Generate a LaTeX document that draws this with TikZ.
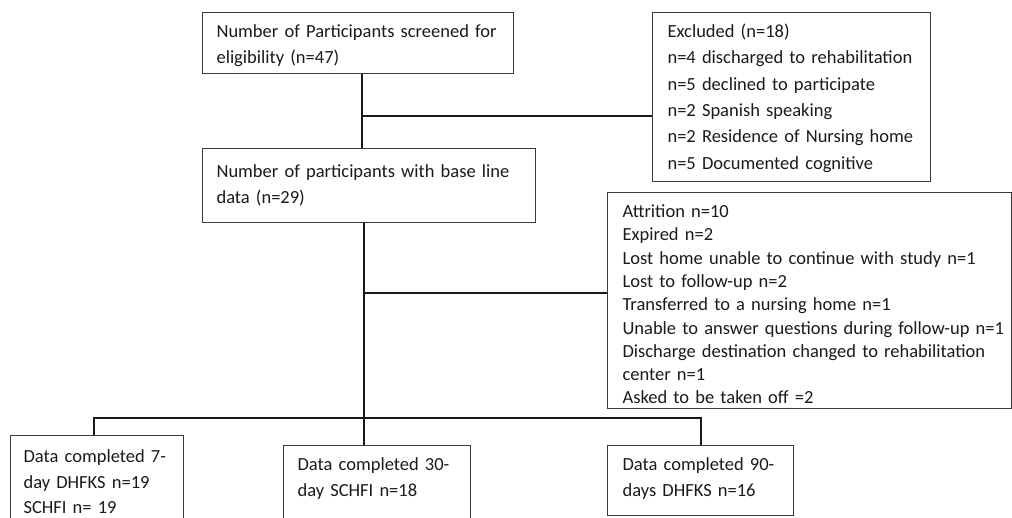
\documentclass[tikz,border=0pt]{standalone}
\usepackage{fontspec}
\setmainfont{Carlito}
\usepackage{tikz}
\definecolor{boxgray}{HTML}{3C3C3C}
\definecolor{inkblack}{HTML}{1A1A1A}
\tikzstyle{flowbox}=[draw=boxgray,line width=1.1pt,anchor=north west,inner ysep=0pt,align=left,text=inkblack,font=\fontsize{18.5}{26.3}\selectfont]
\tikzstyle{thinline}=[line width=1.1pt,inkblack]
\tikzstyle{thickline}=[line width=2pt,inkblack]

\begin{document}
\begin{tikzpicture}[x=1pt,y=-1pt]
            \useasboundingbox (0,0) rectangle (1012,518);
            \clip (0,0) rectangle (1012,518);
            \coordinate (j1) at (362,116);
            \coordinate (j2) at (364,293);
            \coordinate (j3) at (364,418);
            \node[flowbox,inner xsep=14pt,text width=283pt,text height=25pt,text depth=36pt] (screened) at (202,12)
                {Number of Participants screened for\\eligibility (n=47)};
            \node[flowbox,inner xsep=15pt,text width=248pt,text height=25pt,text depth=144pt] (excluded) at (652,12)
                {Excluded (n=18)\\n=4 discharged to rehabilitation\\n=5 declined to participate\\n=2 Spanish speaking\\n=2 Residence of Nursing home\\n=5 Documented cognitive};
            \node[flowbox,inner xsep=14pt,text width=305pt,text height=29pt,text depth=45pt] (baseline) at (202,148)
                {Number of participants with base line\\data (n=29)};
            \node[flowbox,inner xsep=15pt,text width=374pt,text height=25pt,text depth=191pt,font=\fontsize{18.5}{23.3}\selectfont] (attrition) at (607,192)
                {Attrition n=10\\Expired n=2\\Lost home unable to continue with study n=1\\Lost to follow-up n=2\\Transferred to a nursing home n=1\\\mbox{Unable to answer questions during follow-up n=1}\\\mbox{Discharge destination changed to rehabilitation}\\center n=1\\Asked to be taken off =2};
            \node[flowbox,inner xsep=13pt,text width=147pt,text height=27pt,text depth=78pt,font=\fontsize{18.5}{25.5}\selectfont] (day7) at (10,435)
                {\mbox{Data completed 7-}\\day DHFKS n=19\\SCHFI n= 19};
            \node[flowbox,inner xsep=14pt,text width=159pt,text height=25pt,text depth=70pt] (day30) at (283,445)
                {\mbox{Data completed 30-}\\day SCHFI n=18};
            \node[flowbox,inner xsep=15pt,text width=156pt,text height=25pt,text depth=45pt] (day90) at (607,445)
                {\mbox{Data completed 90-}\\days DHFKS n=16};
            \draw[thinline] (screened.south -| j1)--(baseline.north -| j1);
            \draw[thickline] (j1)--(excluded.west |- j1);
            \draw[thickline] (baseline.south -| j3)--(j3);
            \draw[thickline] (j2)--(attrition.west |- j2);
            \draw[thickline] ([xshift=-3pt]day7.north) |- (j3) -| (day90.north);
            \draw[thickline] (j3)--(day30.north -| j3);
        \end{tikzpicture}
\end{document}
